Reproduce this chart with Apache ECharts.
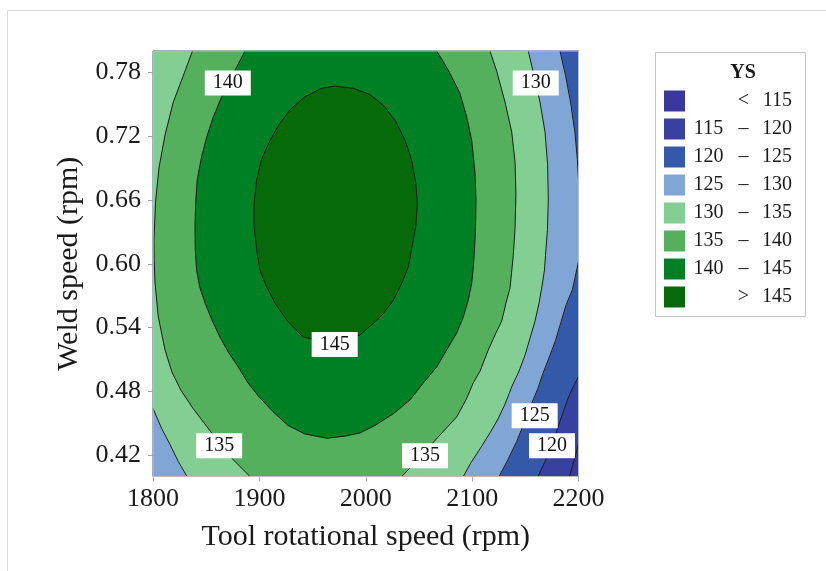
<!DOCTYPE html>
<html><head><meta charset="utf-8">
<script src="https://cdn.jsdelivr.net/npm/echarts@6/dist/echarts.min.js"></script>
<style>html,body{margin:0;padding:0;background:#fff}#main{width:826px;height:571px}</style>
</head><body><div id="main"></div>
<script>
// ---------- data ----------
const xTicks = [1800, 1900, 2000, 2100, 2200];
const yTicks = [0.42, 0.48, 0.54, 0.60, 0.66, 0.72, 0.78];
const legendLabels = ['< 115', '115 – 120', '120 – 125', '125 – 130', '130 – 135', '135 – 140', '140 – 145', '> 145'];

// contour lines [rpm, weld speed]
const c145 = [[1971,0.767],[1988,0.765],[2004,0.759],[2016.5,0.749],[2027.5,0.735],[2037,0.716],[2043,0.698],[2047,0.676],[2048.5,0.657],[2047,0.635],[2043,0.613],[2040,0.597],[2034,0.582],[2026,0.566],[2016.5,0.553],[2007,0.544],[1994.6,0.533],[1971,0.527],[1952,0.529],[1941,0.531],[1925.7,0.547],[1914.7,0.563],[1907,0.578],[1900.6,0.594],[1897.5,0.613],[1895,0.635],[1895,0.657],[1897.5,0.679],[1902,0.698],[1910,0.716],[1918,0.730],[1929,0.745],[1943,0.757],[1958.6,0.765],[1971,0.767]];
const c140 = [[1886.5,0.800],[1878.7,0.785],[1870.5,0.770],[1864.6,0.757],[1856.7,0.738],[1850.5,0.719],[1845.8,0.701],[1841.6,0.679],[1840.1,0.657],[1839.5,0.635],[1839.8,0.613],[1841,0.594],[1844,0.578],[1849,0.563],[1855.5,0.547],[1863,0.531],[1871.4,0.516],[1880.8,0.502],[1889.3,0.488],[1899.6,0.475],[1912.8,0.461],[1926.9,0.448],[1942.9,0.440],[1963.6,0.436],[1980.5,0.438],[1994.6,0.441],[2008.7,0.448],[2025.9,0.459],[2041.6,0.472],[2054.1,0.488],[2066.7,0.503],[2076.1,0.519],[2085.5,0.535],[2091.7,0.550],[2096.4,0.566],[2099.6,0.582],[2101.1,0.597],[2102.2,0.613],[2103.2,0.635],[2103.6,0.660],[2102.7,0.685],[2099.6,0.716],[2094.9,0.738],[2088.6,0.760],[2079.2,0.779],[2072.9,0.790],[2066.7,0.800]];
const c135L = [[1837.1,0.800],[1828.2,0.776],[1819.1,0.752],[1811.3,0.721],[1805.6,0.690],[1802.4,0.658],[1800.9,0.622],[1801.1,0.604],[1801.9,0.582],[1805,0.550],[1811.3,0.519],[1817.9,0.498],[1826.3,0.481],[1837.6,0.464],[1849.8,0.448],[1862,0.432],[1875.2,0.416],[1891.2,0.400]];
const c135R = [[2033.8,0.400],[2051,0.418],[2067.9,0.437],[2085.5,0.456],[2094.2,0.472],[2101.1,0.488],[2107.4,0.499],[2115.2,0.519],[2122.4,0.535],[2127.8,0.546],[2131.8,0.563],[2135.6,0.577],[2138.7,0.608],[2140.3,0.633],[2141.2,0.665],[2140.3,0.696],[2137.2,0.724],[2130.9,0.752],[2123.1,0.781],[2116.8,0.800]];
const c130L = [[1800,0.464],[1808.2,0.445],[1816,0.430],[1823.8,0.414],[1832,0.400]];
const c130R = [[2091.7,0.400],[2098.9,0.413],[2107.4,0.426],[2116.8,0.441],[2124.3,0.454],[2130.9,0.468],[2137.5,0.485],[2144.1,0.499],[2149.7,0.514],[2154.4,0.530],[2159.1,0.546],[2162.9,0.563],[2165.7,0.579],[2168,0.594],[2169,0.608],[2170.8,0.632],[2171.6,0.660],[2171,0.693],[2168.5,0.724],[2163.8,0.752],[2159.1,0.773],[2152.8,0.800]];
const c125T = [[2182.6,0.800],[2187.8,0.777],[2192.5,0.752],[2196.7,0.723],[2198.9,0.698],[2200,0.679]];
const c125B = [[2200,0.602],[2194.4,0.576],[2188.2,0.561],[2183.5,0.545],[2178.4,0.528],[2173.2,0.514],[2166.6,0.497],[2161.9,0.483],[2155.3,0.467],[2148.8,0.450],[2141.9,0.433],[2133.7,0.416],[2125.3,0.400]];
const c120 = [[2200,0.494],[2194.8,0.484],[2190.4,0.474],[2186.4,0.463],[2182.6,0.452],[2177.9,0.438],[2173.2,0.426],[2168.5,0.414],[2161.9,0.400]];
const c115 = [[2200,0.431],[2197.2,0.420],[2194.4,0.410],[2191.5,0.400]];

// contour level labels [rpm, weld speed, text]
const contourLabels = [[1870.3,0.770,'140'],[2159.8,0.770,'130'],[1970.8,0.524,'145'],[1862.2,0.429,'135'],[2055.7,0.4195,'135'],[2158.8,0.457,'125'],[2175.1,0.429,'120']];

// ---------- styling ----------
const levelColors = ['#3B389C','#3840A0','#3459A8','#80A6D6','#83CF93','#54B05C','#008024','#076A0A'];
const FONT = "'Liberation Serif','Times New Roman',serif";
const X0 = 1800, X1 = 2200, Y0 = 0.40, Y1 = 0.80;

const contours = {c145, c140, c135L, c135R, c130L, c130R, c125T, c125B, c120, c115};
const corners = {TL:[X0,Y1], TR:[X1,Y1], BL:[X0,Y0], BR:[X1,Y0]};
// superlevel regions: contour pieces (~ = reversed) closed along the plot frame
const regionSpecs = [
  ['TL','BL','BR','TR'],
  ['TL','BL','~c115','TR'],
  ['TL','BL','~c120','TR'],
  ['TL','BL','~c125B','~c125T'],
  ['TL','c130L','c130R'],
  ['c135L','c135R'],
  ['c140'],
  ['c145']
];
function buildRegion(spec){
  let pts = [];
  spec.forEach(s => {
    if (corners[s]) pts.push(corners[s]);
    else if (s[0] === '~') pts = pts.concat(contours[s.slice(1)].slice().reverse());
    else pts = pts.concat(contours[s]);
  });
  return pts;
}

const series = [];
regionSpecs.forEach((spec, i) => {
  const poly = buildRegion(spec);
  series.push({
    type: 'custom', name: legendLabels[i], z: 2 + i * 0.01,
    itemStyle: {color: levelColors[i]},
    data: [[X0, Y0]],
    silent: true,
    renderItem: (params, api) => ({
      type: 'polygon',
      shape: {points: poly.map(p => api.coord(p))},
      style: {fill: levelColors[i], stroke: levelColors[i], lineWidth: 0.5}
    })
  });
});
Object.keys(contours).forEach(k => {
  series.push({
    type: 'line', name: k, data: contours[k], showSymbol: false, symbol: 'none',
    silent: true, z: 4, smooth: false,
    lineStyle: {color: '#1c1c1c', width: 1}
  });
});
series.push({
  type: 'scatter', name: 'labels', data: contourLabels, symbolSize: 0, z: 6, silent: true,
  itemStyle: {opacity: 1},
  label: {
    show: true, position: 'inside', formatter: p => p.data[2],
    fontFamily: FONT, fontSize: 20, lineHeight: 20, color: '#111',
    backgroundColor: '#fff', padding: [3, 8, 2, 8], opacity: 1
  }
});

function legendFmt(name){
  let a, b, c;
  if (name[0] === '<' || name[0] === '>') { a = ' '; b = name[0]; c = name.slice(2); }
  else { const parts = name.split(' – '); a = parts[0]; b = '–'; c = parts[1]; }
  return '{a|' + a + '}{b|' + b + '}{c|' + c + '}';
}

const chart = echarts.init(document.getElementById('main'), null, {renderer: 'canvas'});
chart.setOption({
  animation: false,
  backgroundColor: '#fff',
  grid: {left: 153, top: 51, width: 425.5, height: 425.5, show: true, borderColor: '#bdbdbd', borderWidth: 1, z: 10},
  xAxis: {
    type: 'value', min: X0, max: X1, interval: 100,
    name: 'Tool rotational speed (rpm)', nameLocation: 'middle', nameGap: 46,
    nameTextStyle: {fontFamily: FONT, fontSize: 30, color: '#1a1a1a'},
    axisLine: {show: false},
    axisTick: {show: true, length: 5, lineStyle: {color: '#aaa'}},
    axisLabel: {fontFamily: FONT, fontSize: 26, color: '#1a1a1a', margin: 10, formatter: v => String(v)},
    splitLine: {show: false}
  },
  yAxis: {
    type: 'value', min: Y0, max: Y1,
    name: 'Weld speed (rpm)', nameLocation: 'middle', nameGap: 64,
    nameTextStyle: {fontFamily: FONT, fontSize: 30, color: '#1a1a1a'},
    axisLine: {show: false},
    axisTick: {show: true, length: 5, lineStyle: {color: '#aaa'}, customValues: yTicks},
    axisLabel: {fontFamily: FONT, fontSize: 26, color: '#1a1a1a', margin: 12, customValues: yTicks, formatter: v => v.toFixed(2)},
    splitLine: {show: false}
  },
  legend: {
    orient: 'vertical', left: 664, top: 90.5, padding: 0,
    itemWidth: 21, itemHeight: 21, itemGap: 7, icon: 'rect',
    selectedMode: false,
    data: legendLabels,
    formatter: legendFmt,
    textStyle: {
      fontFamily: FONT, fontSize: 20, color: '#1a1a1a',
      rich: {
        a: {fontFamily: FONT, fontSize: 20, width: 37, align: 'right', color: '#1a1a1a'},
        b: {fontFamily: FONT, fontSize: 20, width: 33, align: 'center', color: '#1a1a1a'},
        c: {fontFamily: FONT, fontSize: 20, width: 32, align: 'right', color: '#1a1a1a'}
      }
    }
  },
  graphic: [
    {type: 'rect', shape: {x: 7.5, y: 10.5, width: 900, height: 700}, style: {fill: 'none', stroke: '#dcdcdc', lineWidth: 1}, silent: true, z: -1},
    {type: 'rect', shape: {x: 655.5, y: 52.5, width: 150, height: 264}, style: {fill: 'none', stroke: '#c4c4c4', lineWidth: 1}, silent: true},
    {type: 'text', x: 743, y: 73, style: {text: 'YS', font: "bold 20px 'Liberation Serif'", fill: '#1a1a1a', textAlign: 'center', textVerticalAlign: 'middle'}, silent: true}
  ],
  series: series
});
</script>
</body></html>
